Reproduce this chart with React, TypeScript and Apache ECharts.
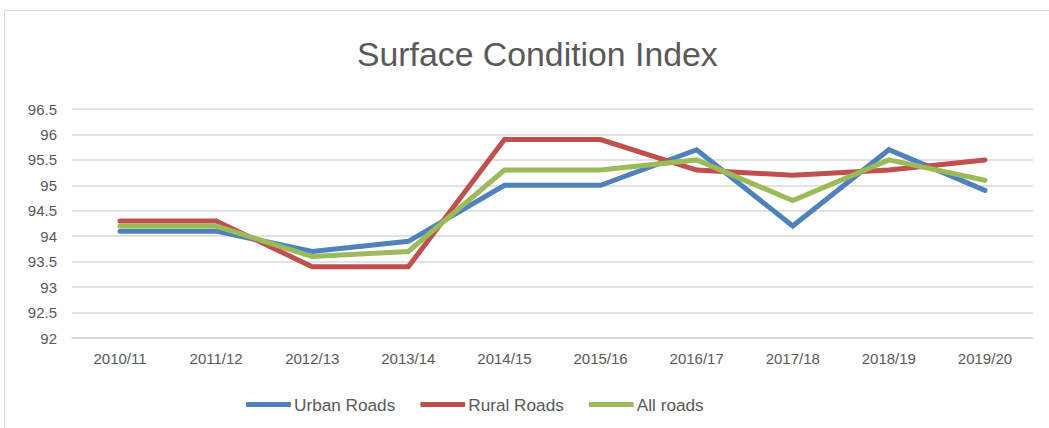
import React, { useEffect, useRef } from "react";
import * as echarts from "echarts";

const categories = ["2010/11", "2011/12", "2012/13", "2013/14", "2014/15", "2015/16", "2016/17", "2017/18", "2018/19", "2019/20"];
const urbanRoads = [94.1, 94.1, 93.7, 93.9, 95.0, 95.0, 95.7, 94.2, 95.7, 94.9];
const ruralRoads = [94.3, 94.3, 93.4, 93.4, 95.9, 95.9, 95.3, 95.2, 95.3, 95.5];
const allRoads = [94.2, 94.2, 93.6, 93.7, 95.3, 95.3, 95.5, 94.7, 95.5, 95.1];
const seriesNames = ["Urban Roads", "Rural Roads", "All roads"];
const colors = ["#4F81BD", "#C0504D", "#9BBB59"];

export default function App() {
  const ref = useRef<HTMLDivElement>(null);
  useEffect(() => {
    if (!ref.current) return;
    const chart = echarts.init(ref.current, null, { renderer: "svg" });
    const font = "'Liberation Sans', Arial, sans-serif";
    const dataSets = [urbanRoads, ruralRoads, allRoads];
    chart.setOption({
      animation: false,
      backgroundColor: "#ffffff",
      title: {
        text: "Surface Condition Index",
        left: 352,
        top: 32,
        textStyle: { fontFamily: font, fontSize: 33.8, fontWeight: "normal", color: "#595959" },
      },
      graphic: [
        {
          type: "rect",
          shape: { x: 4.5, y: 10.5, width: 1100, height: 500 },
          style: { fill: "none", stroke: "#D9D9D9", lineWidth: 1 },
          silent: true,
        },
      ],
      legend: {
        bottom: 10,
        left: 241,
        icon: "roundRect",
        itemWidth: 45,
        itemHeight: 5,
        itemGap: 25,
        textStyle: { fontFamily: font, fontSize: 17.2, color: "#595959", padding: [0, 0, 0, -2] },
        data: seriesNames,
      },
      grid: { left: 72, right: 16, top: 109, bottom: 90, containLabel: false },
      xAxis: {
        type: "category",
        data: categories,
        boundaryGap: true,
        axisLine: { lineStyle: { color: "#D9D9D9", width: 1.5 } },
        axisTick: { show: false },
        axisLabel: { fontFamily: font, fontSize: 15, color: "#595959", margin: 13 },
      },
      yAxis: {
        type: "value",
        min: 92,
        max: 96.5,
        interval: 0.5,
        axisLine: { show: false },
        axisTick: { show: false },
        splitLine: { lineStyle: { color: "#D9D9D9", width: 1.5 } },
        axisLabel: { fontFamily: font, fontSize: 15, color: "#595959", margin: 15 },
      },
      series: seriesNames.map((name, i) => ({
        name,
        type: "line",
        data: dataSets[i],
        showSymbol: false,
        symbol: "none",
        color: colors[i],
        lineStyle: { width: 5, color: colors[i], cap: "round", join: "miter" },
        itemStyle: { color: colors[i] },
      })),
    });
    return () => chart.dispose();
  }, []);
  return (
    <div
      ref={ref}
      style={{ position: "absolute", left: 0, top: 0, width: 1049, height: 428 }}
    />
  );
}
